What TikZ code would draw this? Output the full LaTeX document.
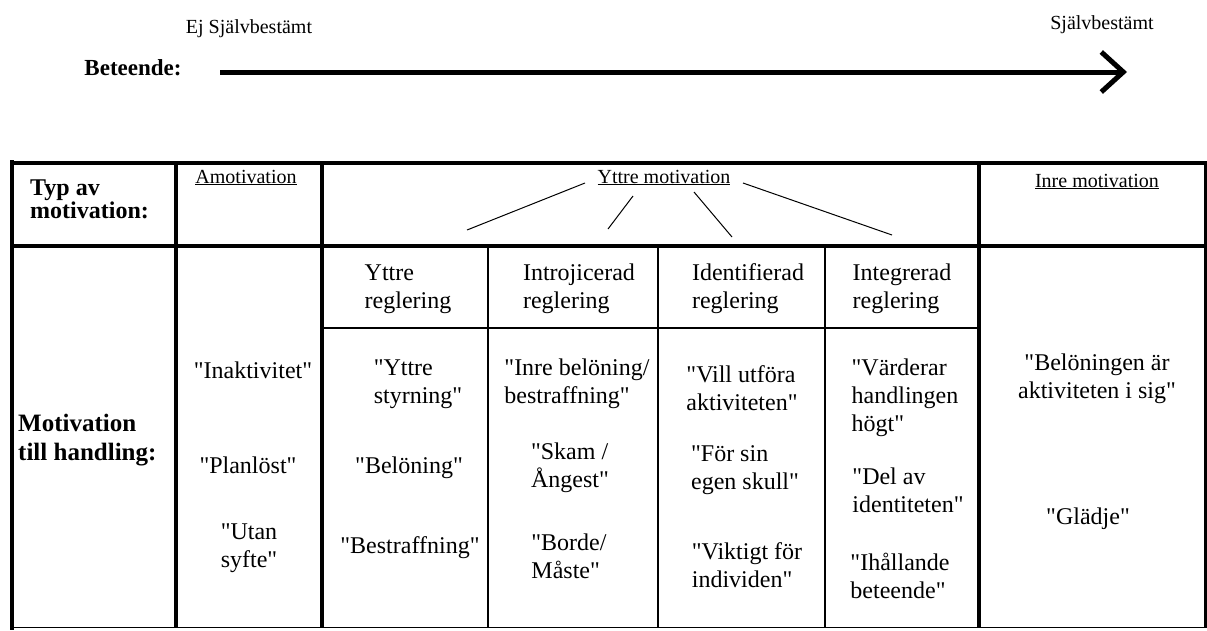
\documentclass[tikz,border=0pt]{standalone}
\usepackage{fontspec}
\setmainfont{Liberation Serif}[Ligatures=TeXOff]
\usepackage{tikz}
\usetikzlibrary{positioning,arrows.meta}

\begin{document}
\begin{tikzpicture}[
  x=1pt, y=1pt,
  cell/.style={font=\fontsize{24}{28}\selectfont, align=left, inner sep=0pt},
  head/.style={font=\fontsize{20}{24}\selectfont, inner sep=0pt},
  rowlbl/.style={font=\fontsize{24}{20}\selectfont\bfseries, align=left, inner sep=0pt, anchor=west},
  heavy/.style={line width=4pt},
  light/.style={line width=1.5pt},
  spoke/.style={line width=1pt}
]
\useasboundingbox (0,0) rectangle (1207,-630);

% behaviour axis
\node[head] (ejsjalv) at (249,-29) {Ej Självbestämt};
\node[head] (sjalv) at (1102,-25) {Självbestämt};
\node[font=\fontsize{23}{28}\selectfont\bfseries, inner sep=0pt] (beteende) at (133,-68) {Beteende:};
\coordinate (axstart) at (220,-72);
\coordinate (axend) at (1127,-72);
\draw[line width=5pt, -{Straight Barb[length=22pt, width=40pt, line width=5pt]}] (axstart) -- (axend);

% table grid
\draw[heavy] (12,-160) -- (12,-630);
\draw[heavy] (10,-163) -- (1207,-163);
\draw[heavy] (12,-246) -- (1205,-246);
\foreach \x in {176,322,979}
  \draw[heavy] (\x,-163) -- (\x,-628);
\foreach \x in {488,658,825}
  \draw[light] (\x,-246) -- (\x,-628);
\draw[light] (322,-328) -- (979,-328);
\draw[light] (12,-627.5) -- (1205,-627.5);
\draw[line width=3pt] (1205,-163) -- (1205,-628);

% header row
\node[rowlbl] (typ) at (30,-199) {Typ av\\motivation:};
\node[head, anchor=base] (amot) at (246,-183) {\underline{Amotivation}};
\node[head, anchor=base] (yttremot) at (664,-183) {\underline{Yttre motivation}};
\node[head, anchor=base] (inremot) at (1097,-187) {\underline{Inre motivation}};

% spokes from Yttre motivation
\coordinate (up1) at (585,-183);
\coordinate (up2) at (633,-196);
\coordinate (up3) at (694,-192);
\coordinate (up4) at (743,-183);
\coordinate (dn1) at (467,-230);
\coordinate (dn2) at (608,-229);
\coordinate (dn3) at (732,-237);
\coordinate (dn4) at (892,-235);
\foreach \i in {1,...,4}
  \draw[spoke] (up\i) -- (dn\i);

% row label
\node[rowlbl, font=\fontsize{25}{29}\selectfont\bfseries] (handling) at (18,-440) {Motivation\\till handling:};

% amotivation
\node[cell] (inakt) at (253,-370) {"Inaktivitet"};
\node[cell] (planlost) at (248,-465) {"Planlöst"};
\node[cell] (utan) at (249,-548) {"Utan\\syfte"};

% yttre reglering
\node[cell] (yr) at (408,-289) {Yttre\\reglering};
\node[cell] (styr) at (418,-384) {"Yttre\\styrning"};
\node[cell] (belon) at (409,-468) {"Belöning"};
\node[cell] (bestr) at (410,-548) {"Bestraffning"};

% introjicerad reglering
\node[cell] (ir) at (579,-289) {Introjicerad\\reglering};
\node[cell] (inrebel) at (577,-384) {"Inre belöning/\\bestraffning"};
\node[cell] (skam) at (570,-468) {"Skam /\\Ångest"};
\node[cell] (borde) at (569,-556) {"Borde/\\Måste"};

% identifierad reglering
\node[cell] (idr) at (748,-289) {Identifierad\\reglering};
\node[cell] (vill) at (742,-388) {"Vill utföra\\aktiviteten"};
\node[cell] (forsin) at (745,-470) {"För sin\\egen skull"};
\node[cell] (viktigt) at (747,-565) {"Viktigt för\\individen"};

% integrerad reglering
\node[cell] (intr) at (902,-289) {Integrerad\\reglering};
\node[cell] (varderar) at (905,-398) {"Värderar\\handlingen\\högt"};
\node[cell] (delav) at (908,-490) {"Del av\\identiteten"};
\node[cell] (ihall) at (900,-576) {"Ihållande\\beteende"};

% inre motivation
\node[cell, align=center] (belonar) at (1097,-379) {"Belöningen är\\aktiviteten i sig"};
\node[cell] (gladje) at (1088,-519) {"Glädje"};
\end{tikzpicture}
\end{document}
